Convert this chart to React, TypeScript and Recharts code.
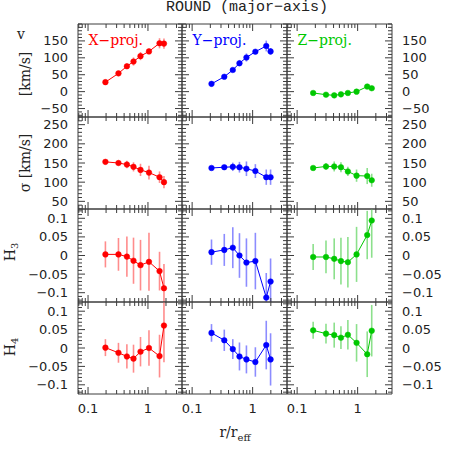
import React from "react";
import { ComposedChart, Line, XAxis, YAxis, ErrorBar } from "recharts";

// radial bins (r / r_eff) for each projection
const rX = [0.195, 0.322, 0.445, 0.574, 0.751, 1.04, 1.56, 1.85];
const rY = [0.209, 0.34, 0.47, 0.606, 0.79, 1.11, 1.68, 1.98];
const rZ = [0.184, 0.3, 0.41, 0.53, 0.69, 0.96, 1.44, 1.71];

// rotation velocity [km/s]
const vX = [28, 54, 75, 89, 105, 119, 143, 142];
const vXerr = [4, 5, 8, 12, 12, 8, 15, 15];
const vY = [23, 44, 64, 84, 101, 118, 135, 119];
const vYerr = [4, 4, 5, 9, 12, 7, 16, 10];
const vZ = [-4, -9, -11, -8, -4, 0, 15, 10];
const vZerr = [4, 3, 3, 4, 4, 4, 4, 4];

// dispersion [km/s]
const sX = [153, 150, 146, 140, 132, 125, 113, 100];
const sXerr = [3, 7, 10, 12, 16, 18, 15, 16];
const sY = [137, 139, 140, 139, 135, 129, 113, 113];
const sYerr = [3, 4, 11, 14, 19, 18, 20, 20];
const sZ = [137, 141, 141, 139, 128, 117, 116, 105];
const sZerr = [3, 9, 13, 13, 12, 16, 21, 17];

// H3
const h3X = [0.003, 0.003, -0.003, -0.014, -0.026, -0.017, -0.042, -0.088];
const h3Xerr = [0.035, 0.044, 0.054, 0.062, 0.068, 0.078, 0.052, 0.065];
const h3Y = [0.009, 0.015, 0.021, 0.0, -0.019, -0.015, -0.113, -0.07];
const h3Yerr = [0.034, 0.043, 0.055, 0.06, 0.065, 0.076, 0.066, 0.062];
const h3Z = [-0.004, -0.004, -0.009, -0.015, -0.018, 0.003, 0.055, 0.094];
const h3Zerr = [0.035, 0.044, 0.055, 0.063, 0.068, 0.074, 0.065, 0.1];

// H4
const h4X = [0.001, -0.013, -0.023, -0.029, -0.01, 0.0, -0.022, 0.061];
const h4Xerr = [0.023, 0.027, 0.033, 0.038, 0.04, 0.048, 0.058, 0.1];
const h4Y = [0.041, 0.021, -0.003, -0.023, -0.031, -0.038, 0.008, -0.031];
const h4Yerr = [0.024, 0.029, 0.027, 0.038, 0.038, 0.04, 0.066, 0.071];
const h4Z = [0.048, 0.039, 0.035, 0.028, 0.036, 0.014, -0.017, 0.047];
const h4Zerr = [0.023, 0.027, 0.034, 0.031, 0.04, 0.051, 0.062, 0.07];

const PROJ = ["X−proj.", "Y−proj.", "Z−proj."];
const COLORS = ["#ff0000", "#0000ff", "#00c800"];
const ERR_COLORS = ["#ff8c8c", "#8c8cff", "#8ce08c"];

const X_DOMAIN: [number, number] = [0.068, 3.7];
const X_TICKS = [0.07, 0.08, 0.09, 0.1, 0.2, 0.3, 0.4, 0.5, 0.6, 0.7, 0.8, 0.9, 1, 2, 3];
const X_MAJOR = [0.1, 1];
const X_LABELS = ["0.1", "1"];

const V_MAJOR = [-50, 0, 50, 100, 150];
const V_LABELS = ["−50", "0", "50", "100", "150"];
const S_MAJOR = [50, 100, 150, 200, 250];
const S_LABELS = ["50", "100", "150", "200", "250"];
const H_MAJOR = [-0.1, -0.05, 0, 0.05, 0.1];
const H_LABELS = ["−0.1", "−0.05", "0", "0.05", "0.1"];

// minor tick helper (integer steps, scaled)
const steps = (lo: number, hi: number, div: number) => {
  const out: number[] = [];
  for (let k = lo; k <= hi; k++) out.push(k / div);
  return out;
};

const ROWS = [
  { domain: [-75, 200], ticks: steps(-7, 20, 0.1), major: V_MAJOR, labels: V_LABELS,
    vals: [vX, vY, vZ], errs: [vXerr, vYerr, vZerr] },
  { domain: [30, 270], ticks: steps(3, 27, 0.1), major: S_MAJOR, labels: S_LABELS,
    vals: [sX, sY, sZ], errs: [sXerr, sYerr, sZerr] },
  { domain: [-0.125, 0.125], ticks: steps(-12, 12, 100), major: H_MAJOR, labels: H_LABELS,
    vals: [h3X, h3Y, h3Z], errs: [h3Xerr, h3Yerr, h3Zerr] },
  { domain: [-0.125, 0.125], ticks: steps(-12, 12, 100), major: H_MAJOR, labels: H_LABELS,
    vals: [h4X, h4Y, h4Z], errs: [h4Xerr, h4Yerr, h4Zerr] },
];
const RADII = [rX, rY, rZ];

// panel frame geometry (px)
const COL_X = [78, 182, 287];
const COL_W = [104, 105, 105];
const ROW_Y = [24, 117, 209, 302];
const ROW_H = [93, 92, 93, 92];
const M = 50;

const FRAME = "#3c3c3c";
const TICK_FONT = { fontFamily: "DejaVu Sans", fontSize: 13, fill: "#222" };
const SERIF = "DejaVu Serif";

const near = (a: number, b: number) => Math.abs(a - b) < 1e-9;
const majorIndex = (list: number[], v: number) => list.findIndex((m) => near(m, v));

function xTick(side: "top" | "bottom", showLabel: boolean) {
  return (p: any) => {
    const v = p.payload.value;
    const idx = majorIndex(X_MAJOR, v);
    const len = idx >= 0 ? 7 : 4;
    const dir = side === "bottom" ? -1 : 1;
    return (
      <g>
        <line x1={p.x} y1={p.y} x2={p.x} y2={p.y + dir * len} stroke={FRAME} strokeWidth={1} />
        {showLabel && idx >= 0 && (
          <text x={p.x} y={p.y + 14} textAnchor="middle" dominantBaseline="central" {...TICK_FONT}>
            {X_LABELS[idx]}
          </text>
        )}
      </g>
    );
  };
}

function yTick(side: "left" | "right", showLabel: boolean, major: number[], labels: string[]) {
  return (p: any) => {
    const v = p.payload.value;
    const idx = majorIndex(major, v);
    const len = idx >= 0 ? 7 : 4;
    const dir = side === "left" ? 1 : -1;
    return (
      <g>
        <line x1={p.x} y1={p.y} x2={p.x + dir * len} y2={p.y} stroke={FRAME} strokeWidth={1} />
        {showLabel && idx >= 0 && (
          <text x={p.x - dir * 10} y={p.y} textAnchor={side === "left" ? "end" : "start"}
            dominantBaseline="central" {...TICK_FONT}>
            {labels[idx]}
          </text>
        )}
      </g>
    );
  };
}

function Panel({ row, col }: { row: number; col: number }) {
  const cfg = ROWS[row];
  const [lo, hi] = cfg.domain;
  // error bars are cut at the panel frame, as in the original plot
  const data = RADII[col].map((r, i) => {
    const y = cfg.vals[col][i];
    const e = cfg.errs[col][i];
    return { r, y, e: [Math.min(e, y - lo), Math.min(e, hi - y)] };
  });
  const w = COL_W[col];
  const h = ROW_H[row];
  const axisLine = { stroke: FRAME, strokeWidth: 1 };
  return (
    <div style={{ position: "absolute", left: COL_X[col] - M, top: ROW_Y[row] - M }}>
      <ComposedChart width={w + 2 * M} height={h + 2 * M} data={data}
        margin={{ top: M - 1, right: M - 1, bottom: M - 1, left: M - 1 }}>
        <XAxis xAxisId="b" type="number" dataKey="r" scale="log" domain={X_DOMAIN} allowDataOverflow
          ticks={X_TICKS} interval={0} height={1} tickSize={0} tickMargin={0} tickLine={false}
          axisLine={axisLine} tick={xTick("bottom", row === 3)} />
        <XAxis xAxisId="t" orientation="top" type="number" dataKey="r" scale="log" domain={X_DOMAIN}
          allowDataOverflow ticks={X_TICKS} interval={0} height={1} tickSize={0} tickMargin={0}
          tickLine={false} axisLine={axisLine} tick={xTick("top", false)} />
        <YAxis yAxisId="l" type="number" domain={cfg.domain} allowDataOverflow ticks={cfg.ticks}
          interval={0} width={1} tickSize={0} tickMargin={0} tickLine={false} axisLine={axisLine}
          tick={yTick("left", col === 0, cfg.major, cfg.labels)} />
        <YAxis yAxisId="r" orientation="right" type="number" domain={cfg.domain} allowDataOverflow
          ticks={cfg.ticks} interval={0} width={1} tickSize={0} tickMargin={0} tickLine={false}
          axisLine={axisLine} tick={yTick("right", col === 2, cfg.major, cfg.labels)} />
        <Line xAxisId="b" yAxisId="l" type="linear" dataKey="y" stroke={COLORS[col]} strokeWidth={1}
          dot={{ r: 2.8, fill: COLORS[col], stroke: COLORS[col], strokeWidth: 0.5 }}
          activeDot={false} isAnimationActive={false}>
          <ErrorBar dataKey="e" direction="y" width={0} stroke={ERR_COLORS[col]} strokeWidth={1.6} />
        </Line>
      </ComposedChart>
    </div>
  );
}

function RotLabel({ cx, cy, children }: { cx: number; cy: number; children: React.ReactNode }) {
  return (
    <text transform={`translate(${cx},${cy}) rotate(-90)`} textAnchor="middle" dominantBaseline="central"
      fontFamily={SERIF} fontSize={14} fill="#222">
      {children}
    </text>
  );
}

export default function App() {
  const panels = [];
  for (let r = 0; r < 4; r++) for (let c = 0; c < 3; c++) panels.push(<Panel key={`${r}-${c}`} row={r} col={c} />);
  return (
    <div style={{ position: "absolute", left: 0, top: 0, width: 458, height: 458, background: "#fff", overflow: "hidden" }}>
      {panels}
      <svg width={458} height={458} style={{ position: "absolute", left: 0, top: 0, pointerEvents: "none" }}>
        <text x={247} y={10.5} textAnchor="middle" fontFamily="Liberation Mono" fontSize={15} fill="#222">
          ROUND (major−axis)
        </text>
        {PROJ.map((t, c) => (
          <text key={t} x={COL_X[c] + 10.5} y={44.5} fontFamily={SERIF} fontSize={14} fill={COLORS[c]}>
            {t}
          </text>
        ))}
        <text x={21} y={39} textAnchor="middle" fontFamily={SERIF} fontSize={14} fill="#222">v</text>
        <RotLabel cx={25} cy={74}>[km/s]</RotLabel>
        <RotLabel cx={25} cy={163}>σ [km/s]</RotLabel>
        <RotLabel cx={10} cy={252}>
          H<tspan fontSize={10} dy={4}>3</tspan>
        </RotLabel>
        <RotLabel cx={10} cy={347}>
          H<tspan fontSize={10} dy={4}>4</tspan>
        </RotLabel>
        <text x={235} y={437} textAnchor="middle" fontFamily={SERIF} fontSize={14} fill="#222">
          r/r<tspan fontSize={10} dy={4}>eff</tspan>
        </text>
      </svg>
    </div>
  );
}
